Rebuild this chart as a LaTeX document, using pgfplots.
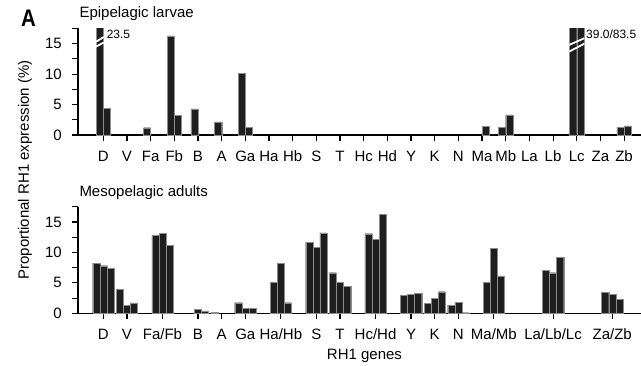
\documentclass[border=0pt]{standalone}
\usepackage{fontspec}
\setmainfont{Liberation Sans}
\usepackage{pgfplots}
\pgfplotsset{compat=1.18}
\definecolor{barc}{HTML}{1E1E1E}
\begin{document}
\fontsize{15bp}{18bp}\selectfont
\begin{tikzpicture}[x=1bp,y=1bp]
\path[use as bounding box] (0,0) rectangle (641,365);
\pgfplotsset{
 common/.style={
  scale only axis, width=563bp, height=106.5bp,
  xmin=-1.069, xmax=22.716, ymin=0, ymax=17.5,
  axis x line*=bottom, axis y line*=left,
  axis line style={-, line width=1.1bp},
  tick style={line width=1.1bp, black},
  tick align=outside, major tick length=6bp, minor tick length=6bp,
  ytick={0,5,10,15}, minor ytick={2.5,7.5,12.5,17.5},
  ybar, bar width=0.3,
  ticklabel style={font=\fontsize{15bp}{18bp}\selectfont},
  /pgf/number format/assume math mode=true,
  xticklabel style={anchor=base, yshift=-20bp},
  yticklabel style={anchor=east, xshift=-5bp},
 },
 bars/.style={fill=barc, draw=black!45, line width=0.3bp},
}
% ---------------- top panel ----------------
\begin{axis}[common, at={(78bp,230bp)}, anchor=south west,
  xtick={0,...,22},
  xticklabels={D,V,Fa,Fb,B,A,Ga,Ha,Hb,S,T,Hc,Hd,Y,K,N,Ma,Mb,La,Lb,Lc,Za,Zb}]
\addplot[bars, bar shift=-0.15] coordinates {(0,23.5) (2,1.2) (3,16.3) (4,4.3) (5,2.15) (6,10.1) (17,1.27) (20,39.0) (22,1.27)};
\addplot[bars, bar shift=0.15] coordinates {(0,4.4) (3,3.25) (6,1.3) (16,1.45) (17,3.3) (20,83.5) (22,1.5)};
\draw[white, line width=1.8bp] (axis cs:-0.32,15.3) -- (axis cs:0.02,16.1);
\draw[white, line width=1.8bp] (axis cs:-0.32,14.5) -- (axis cs:0.02,15.2);
\draw[white, line width=1.8bp] (axis cs:19.68,14.8) -- (axis cs:20.32,15.9);
\draw[white, line width=1.8bp] (axis cs:19.68,13.7) -- (axis cs:20.32,15.0);
\node[anchor=base west, inner sep=0pt, font=\fontsize{12bp}{14bp}\selectfont] at (axis cs:0.14,15.8) {23.5};
\node[anchor=base west, inner sep=0pt, font=\fontsize{12bp}{14bp}\selectfont] at (axis cs:20.39,15.93) {39.0/83.5};
\end{axis}
% ---------------- bottom panel ----------------
\begin{axis}[common, at={(78bp,51.7bp)}, anchor=south west,
  xtick={0,1,2.5,4,5,6,7.5,9,10,11.5,13,14,15,16.5,19,21.5},
  xticklabels={D,V,Fa/Fb,B,A,Ga,Ha/Hb,S,T,Hc/Hd,Y,K,N,Ma/Mb,La/Lb/Lc,Za/Zb}]
\addplot[bars, bar shift=-0.3] coordinates {(0,8.26) (1,3.94) (2.5,12.8) (5,0.16) (6,1.74) (7.5,5.09) (9,11.7) (10,6.68) (11.5,13.08) (13,3.0) (14,1.64) (15,1.33) (16.5,5.14) (19,7.1) (21.5,3.5)};
\addplot[bars, bar shift=0] coordinates {(0,7.83) (1,1.26) (2.5,13.1) (4,0.66) (6,0.8) (7.5,8.26) (9,10.8) (10,5.14) (11.5,12.2) (13,3.17) (14,2.5) (15,1.83) (16.5,10.67) (19,6.68) (21.5,3.07)};
\addplot[bars, bar shift=0.3] coordinates {(0,7.39) (1,1.70) (2.5,11.17) (4,0.38) (6,0.8) (7.5,1.75) (9,13.2) (10,4.43) (11.5,16.3) (13,3.28) (14,3.55) (15,0.1) (16.5,6.13) (19,9.2) (21.5,2.35)};
\end{axis}
% ---------------- texts ----------------
\node[anchor=base west, inner sep=0pt] at (79.3,347.7) {Epipelagic larvae};
\node[anchor=base west, inner sep=0pt] at (79.3,168.3) {Mesopelagic adults};
\node[anchor=base, inner sep=0pt] at (364.5,5.5) {RH1 genes};
\node[rotate=90, inner sep=0pt] at (25,195) {Proportional RH1 expression (\%)};
\node[anchor=base west, inner sep=0pt, font=\fontsize{24bp}{26bp}\selectfont\bfseries] at (21,338.3) {\scalebox{0.85}[1]{A}};
\end{tikzpicture}
\end{document}
